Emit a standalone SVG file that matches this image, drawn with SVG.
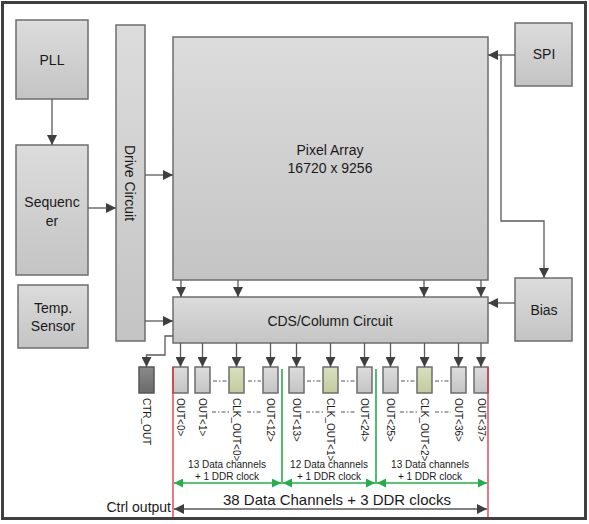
<svg xmlns="http://www.w3.org/2000/svg" width="589" height="524" viewBox="0 0 589 524">
<defs>
<linearGradient id="gGray" x1="0" y1="0" x2="0" y2="1">
<stop offset="0" stop-color="#dcdcdc"/><stop offset="1" stop-color="#c4c4c4"/>
</linearGradient>
<linearGradient id="gGreen" x1="0" y1="0" x2="0" y2="1">
<stop offset="0" stop-color="#d8dfbf"/><stop offset="1" stop-color="#c3cc9c"/>
</linearGradient>
<linearGradient id="gDark" x1="0" y1="0" x2="0" y2="1">
<stop offset="0" stop-color="#8a8a8a"/><stop offset="1" stop-color="#6a6a6a"/>
</linearGradient>
<marker id="ah" viewBox="0 0 10 10" refX="10" refY="5" markerWidth="10" markerHeight="10" markerUnits="userSpaceOnUse" orient="auto-start-reverse">
<path d="M0,0 L10,5 L0,10 z" fill="#3f3f3f"/>
</marker>
<marker id="ahg" viewBox="0 0 10 10" refX="10" refY="5" markerWidth="12" markerHeight="9" markerUnits="userSpaceOnUse" orient="auto-start-reverse">
<path d="M0,0 L10,5 L0,10 z" fill="#21b04b"/>
</marker>
</defs>
<style>
.box{fill:url(#gGray);stroke:#6d6d6d;stroke-width:1.5}
.clk{fill:url(#gGreen);stroke:#6d6d6d;stroke-width:1.5}
.dark{fill:url(#gDark);stroke:#555;stroke-width:1.5}
.t{font-family:"Liberation Sans",Arial,sans-serif;font-size:14px;fill:#1a1a1a;text-anchor:middle}
.s{font-family:"Liberation Sans",Arial,sans-serif;font-size:10px;fill:#1a1a1a;dominant-baseline:central}
.g{font-family:"Liberation Sans",Arial,sans-serif;font-size:10px;fill:#1a1a1a;text-anchor:middle}
.c{fill:none;stroke:#5a5a5a;stroke-width:1.3}
.d{fill:none;stroke:#555;stroke-width:1;stroke-dasharray:4 2 1.5 2}
.gr{fill:none;stroke:#21b04b;stroke-width:1.6}
.rd{fill:none;stroke:#e0303f;stroke-width:1.3}
</style>
<rect x="2.5" y="2.5" width="583" height="516" fill="#fff" stroke="#404040" stroke-width="3"/>

<g id="pll"><rect class="box" x="16" y="20" width="72" height="79"/><text class="t" x="52" y="65">PLL</text></g>
<g id="sequencer"><rect class="box" x="16" y="145" width="72" height="130"/><text class="t" x="52" y="207">Sequenc</text><text class="t" x="52" y="226">er</text></g>
<g id="temp"><rect class="box" x="18" y="285" width="70" height="63"/><text class="t" x="53" y="313">Temp.</text><text class="t" x="53" y="331">Sensor</text></g>
<g id="drive"><rect class="box" x="116" y="25" width="29" height="316"/><text class="t" transform="translate(130,183) rotate(90)" dominant-baseline="central">Drive Circuit</text></g>
<g id="pixel"><rect class="box" x="173" y="37" width="315" height="243"/><text class="t" x="330" y="155">Pixel Array</text><text class="t" x="330" y="173">16720 x 9256</text></g>
<g id="cds"><rect class="box" x="173" y="297" width="315" height="46"/><text class="t" x="330" y="326">CDS/Column Circuit</text></g>
<g id="spi"><rect class="box" x="515" y="23" width="57" height="63"/><text class="t" x="544" y="59">SPI</text></g>
<g id="bias"><rect class="box" x="515" y="278" width="57" height="63"/><text class="t" x="544" y="315">Bias</text></g>

<g id="outputs">
<rect class="dark" x="139" y="367" width="15" height="26"/>
<rect class="box" x="173" y="367" width="15" height="26"/>
<rect class="box" x="195" y="367" width="15" height="26"/>
<rect class="clk" x="229" y="367" width="15" height="26"/>
<rect class="box" x="263" y="367" width="15" height="26"/>
<rect class="box" x="289" y="367" width="15" height="26"/>
<rect class="clk" x="323" y="367" width="15" height="26"/>
<rect class="box" x="357" y="367" width="15" height="26"/>
<rect class="box" x="383" y="367" width="15" height="26"/>
<rect class="clk" x="417" y="367" width="15" height="26"/>
<rect class="box" x="451" y="367" width="15" height="26"/>
<rect class="box" x="474" y="367" width="14" height="26"/>
<text class="s" transform="translate(146.5,398) rotate(90)">CTR_OUT</text>
<text class="s" transform="translate(180.5,398) rotate(90)">OUT&lt;0&gt;</text>
<text class="s" transform="translate(202.5,398) rotate(90)">OUT&lt;1&gt;</text>
<text class="s" transform="translate(236.5,398) rotate(90)">CLK_OUT&lt;0&gt;</text>
<text class="s" transform="translate(270.5,398) rotate(90)">OUT&lt;12&gt;</text>
<text class="s" transform="translate(296.5,398) rotate(90)">OUT&lt;13&gt;</text>
<text class="s" transform="translate(330.5,398) rotate(90)">CLK_OUT&lt;1&gt;</text>
<text class="s" transform="translate(364.5,398) rotate(90)">OUT&lt;24&gt;</text>
<text class="s" transform="translate(390.5,398) rotate(90)">OUT&lt;25&gt;</text>
<text class="s" transform="translate(424.5,398) rotate(90)">CLK_OUT&lt;2&gt;</text>
<text class="s" transform="translate(458.5,398) rotate(90)">OUT&lt;36&gt;</text>
<text class="s" transform="translate(481,398) rotate(90)">OUT&lt;37&gt;</text>
</g>

<g id="connectors">
<path class="c" d="M52,99 V145" marker-end="url(#ah)"/>
<path class="c" d="M88,208 H116" marker-end="url(#ah)"/>
<path class="c" d="M145,175 H173" marker-end="url(#ah)"/>
<path class="c" d="M145,321 H173" marker-end="url(#ah)"/>
<path class="c" d="M515,55 H488" marker-end="url(#ah)"/>
<path class="c" d="M501,55 V221 H544 V278" marker-end="url(#ah)"/>
<path class="c" d="M515,303 H488" marker-end="url(#ah)"/>
<path class="c" d="M181,280 V297" marker-end="url(#ah)"/>
<path class="c" d="M238,280 V297" marker-end="url(#ah)"/>
<path class="c" d="M424,280 V297" marker-end="url(#ah)"/>
<path class="c" d="M481,280 V297" marker-end="url(#ah)"/>
<path class="c" d="M173,336 H165 V355 H146.5 V367" marker-end="url(#ah)"/>
<path class="c" d="M180.5,343 V367" marker-end="url(#ah)"/>
<path class="c" d="M202.5,343 V367" marker-end="url(#ah)"/>
<path class="c" d="M236.5,343 V367" marker-end="url(#ah)"/>
<path class="c" d="M270.5,343 V367" marker-end="url(#ah)"/>
<path class="c" d="M296.5,343 V367" marker-end="url(#ah)"/>
<path class="c" d="M330.5,343 V367" marker-end="url(#ah)"/>
<path class="c" d="M364.5,343 V367" marker-end="url(#ah)"/>
<path class="c" d="M390.5,343 V367" marker-end="url(#ah)"/>
<path class="c" d="M424.5,343 V367" marker-end="url(#ah)"/>
<path class="c" d="M458.5,343 V367" marker-end="url(#ah)"/>
<path class="c" d="M481,343 V367" marker-end="url(#ah)"/>
<path class="d" d="M213,381 H227 M248,381 H261 M307,381 H321 M341,381 H355 M401,381 H415 M435,381 H449"/>
<path class="d" d="M212,412 H229 M247,412 H262 M306,412 H323 M341,412 H356 M400,412 H417 M435,412 H451"/>
<path class="rd" d="M173,367 V517 M488,367 V517"/>
<path class="gr" d="M282,369 V484 M376,369 V484"/>
<path class="gr" d="M174,483 H281" marker-start="url(#ahg)" marker-end="url(#ahg)"/>
<path class="gr" d="M283,483 H375" marker-start="url(#ahg)" marker-end="url(#ahg)"/>
<path class="gr" d="M377,483 H487" marker-start="url(#ahg)" marker-end="url(#ahg)"/>
<path class="c" d="M174,509 H487" marker-start="url(#ah)" marker-end="url(#ah)"/>
</g>

<g id="labels">
<text class="g" x="227" y="468">13 Data channels</text>
<text class="g" x="227" y="480">+ 1 DDR clock</text>
<text class="g" x="329" y="468">12 Data channels</text>
<text class="g" x="329" y="480">+ 1 DDR clock</text>
<text class="g" x="430" y="468">13 Data channels</text>
<text class="g" x="430" y="480">+ 1 DDR clock</text>
<text class="t" x="337" y="505" style="font-size:15px">38 Data Channels + 3 DDR clocks</text>
<text class="t" x="171" y="512" style="text-anchor:end">Ctrl output</text>
</g>
</svg>
